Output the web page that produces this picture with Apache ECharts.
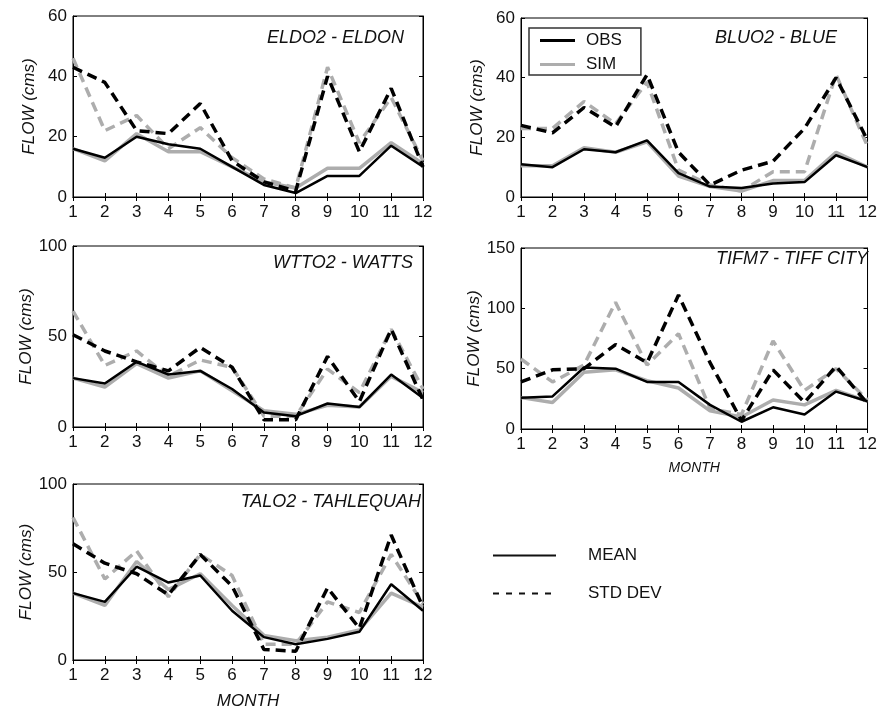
<!DOCTYPE html>
<html>
<head>
<meta charset="utf-8">
<script src="https://cdn.jsdelivr.net/npm/echarts@6/dist/echarts.min.js"></script>
<style>
html,body{margin:0;padding:0;background:#fff;}
#chart{width:880px;height:711px;}
</style>
</head>
<body>
<div id="chart"></div>
<script>
// ---- data ----
const months = [1,2,3,4,5,6,7,8,9,10,11,12];
const stationNames = ['ELDO2 - ELDON','BLUO2 - BLUE','WTTO2 - WATTS','TIFM7 - TIFF CITY','TALO2 - TAHLEQUAH'];
const yMax = [60,60,100,150,100];
const yStep = [20,20,50,50,50];

const eldonObsMean = [16,13,20,17.5,16,10,4,1.3,7,7,17,10];
const eldonSimMean = [16,12,21,15,15,10,5,3,9.5,9.5,18,11];
const eldonObsStd  = [43,38,22,21,31,12,5,2,40,15,36,10];
const eldonSimStd  = [46,22,27,16,23,13,6,3,43,18,33,12];

const blueObsMean = [11,10,16,15,19,8,3.5,3,4.5,5,14,10];
const blueSimMean = [10.5,10.5,16.5,15,18.5,7,3.5,2,5.5,5.5,15,10];
const blueObsStd  = [24,21.5,30,23.5,41,15,4,9,12,23,40,19];
const blueSimStd  = [23,23,32,24.5,38.5,9,4,2,8.5,8.5,41,17];

const wattsObsMean = [27,24,36,29,31,21,8,6,13,11,29,16];
const wattsSimMean = [27,22,35,27,31,20,9,7,12,11,28,19];
const wattsObsStd  = [51,42,36,31,44,33,4,4,39,14,54,15];
const wattsSimStd  = [64,34,42,28,37,33,6,6,32,19,54,21];

const tiffObsMean = [26,27,51,50,39,39,20,6,18,12,31,23];
const tiffSimMean = [26,22,47,49,40,34,15,10,24,20,32,23];
const tiffObsStd  = [39,49,50,70,55,111,55,7,49,22,52,21];
const tiffSimStd  = [58,39,53,105,53,79,17,12,73,32,50,24];

const tahObsMean = [38,33,53,44,48,28,13,9,12,16,43,28];
const tahSimMean = [38,31,56,40,49,31,14,11,13,17,38,30];
const tahObsStd  = [66,55,49,37,60,42,6,5,41,18,71,30];
const tahSimStd  = [81,46,62,36,60,48,9,9,33,27,60,32];

const panels = [
  {obsMean: eldonObsMean, simMean: eldonSimMean, obsStd: eldonObsStd, simStd: eldonSimStd},
  {obsMean: blueObsMean,  simMean: blueSimMean,  obsStd: blueObsStd,  simStd: blueSimStd},
  {obsMean: wattsObsMean, simMean: wattsSimMean, obsStd: wattsObsStd, simStd: wattsSimStd},
  {obsMean: tiffObsMean,  simMean: tiffSimMean,  obsStd: tiffObsStd,  simStd: tiffSimStd},
  {obsMean: tahObsMean,   simMean: tahSimMean,   obsStd: tahObsStd,   simStd: tahSimStd}
];

// ---- layout / style ----
const FONT = 'Liberation Sans, Arial, sans-serif';
const gridPos = [
  {left:73, top:16, width:350, height:181},
  {left:521, top:18, width:348, height:179},
  {left:73, top:246, width:350, height:181},
  {left:521, top:248, width:348, height:181},
  {left:73, top:484, width:350, height:180}
];
const titlePos = [
  {right:476, top:29},
  {right:43, top:29},
  {right:467, top:254},
  {right:12, top:250},
  {right:459, top:493}
];
const BLACK = '#000';
const GRAY = '#adadad';

const grids = [], xAxes = [], yAxes = [], series = [], titles = [];
const pair = arr => months.map((m,i)=>[m, arr[i]]);

panels.forEach((p, k) => {
  grids.push(Object.assign({show:true, borderColor:'#000', borderWidth:1, containLabel:false}, gridPos[k]));
  titles.push(Object.assign({
    text: stationNames[k], padding:0,
    textStyle:{fontFamily:FONT, fontStyle:'italic', fontWeight:'normal', fontSize:18, color:'#111'}
  }, titlePos[k]));
  const nameX = (k === 3 || k === 4) ? 'MONTH' : '';
  xAxes.push({
    gridIndex:k, type:'value', min:1, max:12, interval:1, position:'bottom',
    name:nameX, nameLocation:'middle', nameGap: k===3 ? 32 : 33,
    nameTextStyle:{fontFamily:FONT, fontStyle:'italic', fontSize: k===3 ? 14 : 17, color:'#111'},
    axisLine:{show:true, lineStyle:{color:'#000', width:1}},
    axisTick:{show:true, inside:true, length:4, lineStyle:{color:'#000'}},
    axisLabel:{fontFamily:FONT, fontSize:17, color:'#111', margin:7},
    splitLine:{show:false}
  });
  xAxes.push({
    gridIndex:k, type:'value', min:1, max:12, interval:1, position:'top',
    axisLine:{show:true, lineStyle:{color:'#000', width:1}},
    axisTick:{show:true, inside:true, length:4, lineStyle:{color:'#000'}},
    axisLabel:{show:false}, splitLine:{show:false}
  });
  yAxes.push({
    gridIndex:k, type:'value', min:0, max:yMax[k], interval:yStep[k], position:'left',
    name:'FLOW (cms)', nameLocation:'middle', nameGap:35,
    nameTextStyle:{fontFamily:FONT, fontStyle:'italic', fontSize:17, color:'#111'},
    axisLine:{show:true, lineStyle:{color:'#000', width:1}},
    axisTick:{show:true, inside:true, length:4, lineStyle:{color:'#000'}},
    axisLabel:{fontFamily:FONT, fontSize:17, color:'#111', margin:6},
    splitLine:{show:false}
  });
  yAxes.push({
    gridIndex:k, type:'value', min:0, max:yMax[k], interval:yStep[k], position:'right',
    axisLine:{show:true, lineStyle:{color:'#000', width:1}},
    axisTick:{show:true, inside:true, length:4, lineStyle:{color:'#000'}},
    axisLabel:{show:false}, splitLine:{show:false}
  });
  const base = {type:'line', xAxisIndex:2*k, yAxisIndex:2*k, symbol:'none', silent:true, animation:false};
  series.push(Object.assign({}, base, {name:'SIM', data:pair(p.simMean), lineStyle:{color:GRAY, width:3.5}, itemStyle:{color:GRAY}, z:2}));
  series.push(Object.assign({}, base, {name:'OBS', data:pair(p.obsMean), lineStyle:{color:BLACK, width:2.5}, itemStyle:{color:BLACK}, z:3}));
  series.push(Object.assign({}, base, {name:'SIM std', data:pair(p.simStd), lineStyle:{color:GRAY, width:3.5, type:[10,6]}, itemStyle:{color:GRAY}, z:2}));
  series.push(Object.assign({}, base, {name:'OBS std', data:pair(p.obsStd), lineStyle:{color:BLACK, width:3.5, type:[10,6]}, itemStyle:{color:BLACK}, z:3}));
});

// dummy series for the MEAN / STD DEV key
series.push({type:'line', name:'MEAN', xAxisIndex:0, yAxisIndex:0, data:[], symbol:'none', lineStyle:{color:'#111', width:2}, itemStyle:{color:'#111'}});
series.push({type:'line', name:'STD DEV', xAxisIndex:0, yAxisIndex:0, data:[], symbol:'none', lineStyle:{color:'#111', width:2, type:[6,7]}, itemStyle:{color:'#111'}});

const option = {
  backgroundColor:'#fff',
  animation:false,
  title: titles,
  grid: grids,
  xAxis: xAxes,
  yAxis: yAxes,
  legend: [
    {
      data:['OBS','SIM'], orient:'vertical', left:529, top:28,
      borderColor:'#333', borderWidth:1.5, padding:[4,19,2,11],
      itemWidth:35, itemHeight:14, itemGap:7, selectedMode:false,
      icon:'path://M0,5.5L35,5.5L35,8.5L0,8.5Z',
      textStyle:{fontFamily:FONT, fontSize:17, color:'#111', padding:[0,0,0,6]}
    },
    {
      data:['MEAN','STD DEV'], orient:'vertical', left:487, top:542,
      itemWidth:63, itemHeight:14, itemGap:21, selectedMode:false,
      itemStyle:{opacity:0},
      textStyle:{fontFamily:FONT, fontSize:17, color:'#111', padding:[0,0,0,27]}
    }
  ],
  series: series
};

const chart = echarts.init(document.getElementById('chart'), null, {renderer:'canvas'});
chart.setOption(option);
</script>
</body>
</html>
